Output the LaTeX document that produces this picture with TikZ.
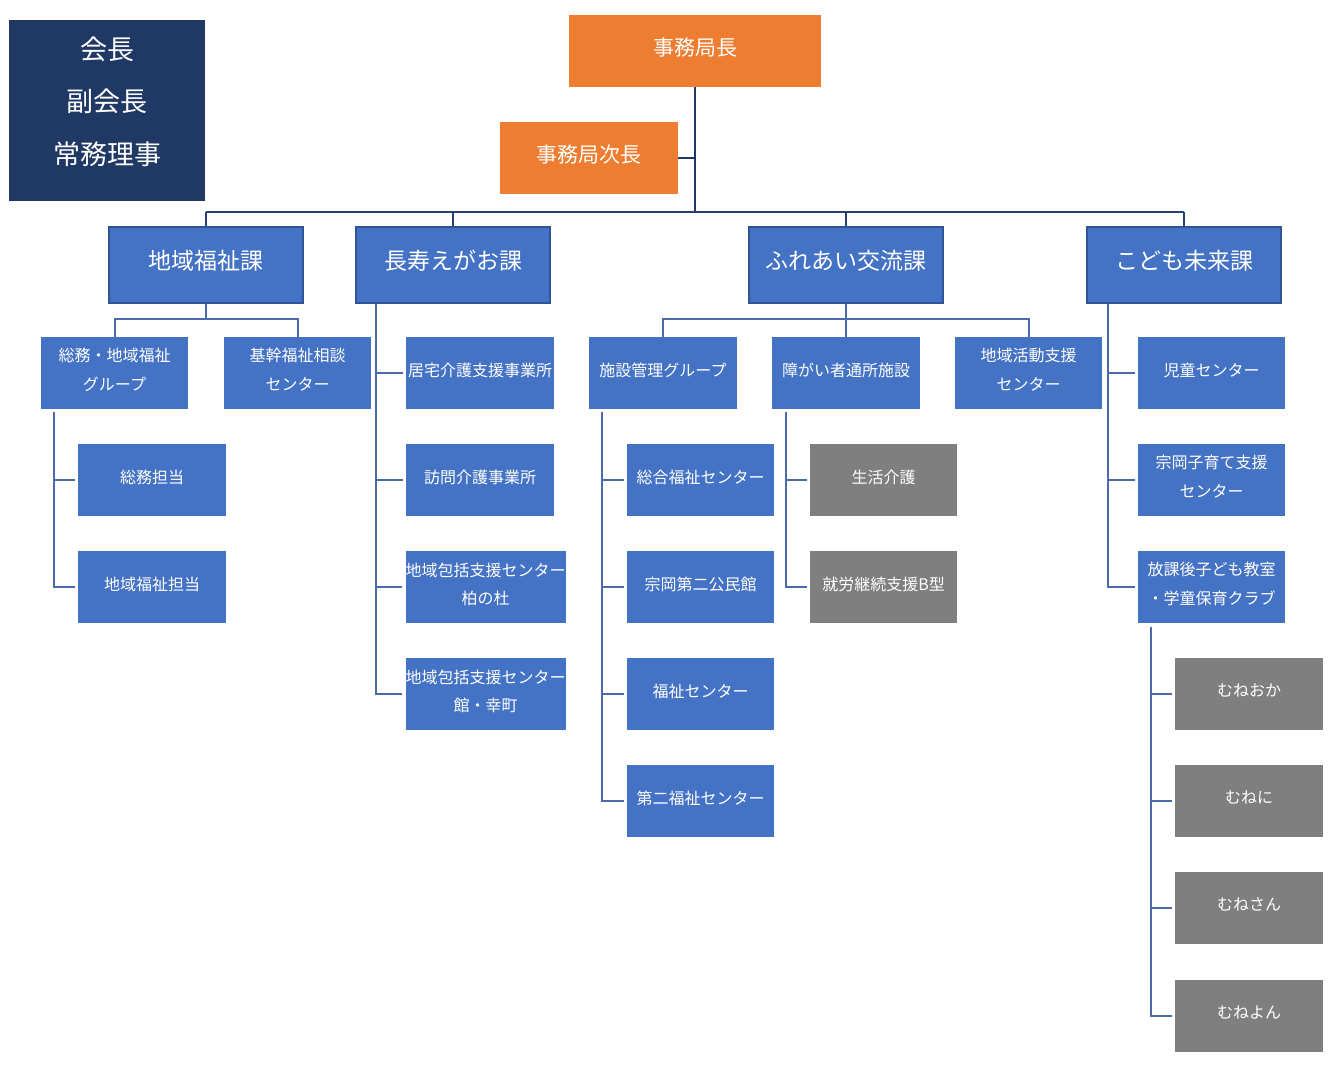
\documentclass[tikz,border=0pt]{standalone}
\usepackage{fontspec}
\setmainfont{Noto Sans CJK JP}
\definecolor{cNavy}{HTML}{203864}
\definecolor{cBlue}{HTML}{4472C4}
\definecolor{cBorder}{HTML}{2F5597}
\definecolor{cOrange}{HTML}{ED7D31}
\definecolor{cGray}{HTML}{7F7F7F}
\definecolor{cLine}{HTML}{4A6AAA}
\tikzset{
  box/.style={rectangle, inner sep=0pt, text=white, align=center,
    minimum width=147pt, minimum height=72pt, text depth=7pt,
    font=\fontsize{16}{28.5}\selectfont},
  bluebox/.style={box, fill=cBlue},
  graybox/.style={box, fill=cGray},
  widebox/.style={bluebox, minimum width=159pt},
  secbox/.style={box, fill=cBlue, draw=cBorder, line width=2.5pt, text depth=10pt,
    minimum width=194pt, minimum height=76pt, font=\fontsize{23}{28}\selectfont},
  orangebox/.style={box, fill=cOrange, minimum height=72pt, text depth=8pt,
    font=\fontsize{21}{26}\selectfont},
  navybox/.style={box, fill=cNavy},
  trunk/.style={draw=cNavy, line width=2.4pt},
  busline/.style={draw=cNavy!85!cBlue, line width=2pt},
  conn/.style={draw=cLine, line width=2pt},
}
\begin{document}
\begin{tikzpicture}[x=1pt,y=-1pt]
\useasboundingbox (0,0) rectangle (1332,1067);

% top boxes
\node[navybox, minimum width=196pt, minimum height=181pt] (kaicho) at (107,110.5) {};
\node[text=white, align=center, font=\fontsize{27}{52.5}\selectfont] (kaichotext) at (107,101.5) {会長\\副会長\\常務理事};
\node[orangebox, minimum width=252pt] (jkc) at (695,51) {事務局長};
\node[orangebox, minimum width=178pt] (jij) at (589,158) {事務局次長};

% sections
\node[secbox] (sec1) at (206,265) {地域福祉課};
\node[secbox] (sec2) at (453,265) {長寿えがお課};
\node[secbox] (sec3) at (846,265) {ふれあい交流課};
\node[secbox] (sec4) at (1184,265) {こども未来課};

% 地域福祉課
\node[bluebox] (g1) at (114.5,373) {総務・地域福祉\\グループ};
\node[bluebox] (g2) at (297.5,373) {基幹福祉相談\\センター};
\node[bluebox, minimum width=148pt] (c11) at (152,480) {総務担当};
\node[bluebox, minimum width=148pt] (c12) at (152,587) {地域福祉担当};

% 長寿えがお課
\node[bluebox, minimum width=148pt] (l1) at (480,373) {居宅介護支援事業所};
\node[bluebox, minimum width=148pt] (l2) at (480,480) {訪問介護事業所};
\node[widebox] (l3) at (485.5,587) {地域包括支援センター\\柏の杜};
\node[widebox] (l4) at (485.5,694) {地域包括支援センター\\館・幸町};

% ふれあい交流課
\node[bluebox, minimum width=148pt] (f1) at (663,373) {施設管理グループ};
\node[bluebox, minimum width=148pt] (f2) at (846,373) {障がい者通所施設};
\node[bluebox] (f3) at (1028.5,373) {地域活動支援\\センター};
\node[bluebox] (fc1) at (700.5,480) {総合福祉センター};
\node[bluebox] (fc2) at (700.5,587) {宗岡第二公民館};
\node[bluebox] (fc3) at (700.5,694) {福祉センター};
\node[bluebox] (fc4) at (700.5,801) {第二福祉センター};
\node[graybox] (fg1) at (883.5,480) {生活介護};
\node[graybox] (fg2) at (883.5,587) {就労継続支援B型};

% こども未来課
\node[bluebox] (k1) at (1211.5,373) {児童センター};
\node[bluebox] (k2) at (1211.5,480) {宗岡子育て支援\\センター};
\node[bluebox] (k3) at (1211.5,587) {放課後子ども教室\\・学童保育クラブ};
\node[graybox, minimum width=148pt] (m1) at (1249,694) {むねおか};
\node[graybox, minimum width=148pt] (m2) at (1249,801) {むねに};
\node[graybox, minimum width=148pt] (m3) at (1249,908) {むねさん};
\node[graybox, minimum width=148pt] (m4) at (1249,1016) {むねよん};

% coordinates
\coordinate (bL) at (206,212);
\coordinate (bR) at (1184,212);
\coordinate (h1) at (206,319);
\coordinate (h3) at (846,319);
\coordinate (v1) at (54,412);
\coordinate (v2) at (376,304);
\coordinate (v3) at (602,412);
\coordinate (v4) at (786,412);
\coordinate (v5) at (1108,304);
\coordinate (v6) at (1151,627);

% top connectors
\draw[trunk] (jkc.south) -- (jkc.south |- bL);
\draw[trunk] (jij.east) -- (jij.east -| jkc.south);
\draw[busline] (bL) -- (bR);
\draw[busline] (sec1.north) -- (sec1.north |- bL);
\draw[busline] (sec2.north) -- (sec2.north |- bL);
\draw[busline] (sec3.north) -- (sec3.north |- bL);
\draw[busline] (sec4.north) -- (sec4.north |- bL);

% 地域福祉課
\draw[conn] (sec1.south) -- (h1);
\draw[conn] (g1.north) |- (h1) -| (g2.north);
\draw[conn, shorten >=3pt] (v1) |- (c11.west);
\draw[conn, shorten >=3pt] (v1) |- (c12.west);

% 長寿えがお課
\draw[conn, shorten >=3pt] (v2) |- (l1.west);
\draw[conn, shorten >=3pt] (v2) |- (l2.west);
\draw[conn, shorten >=3pt] (v2) |- (l3.west);
\draw[conn, shorten >=3pt] (v2) |- (l4.west);

% ふれあい交流課
\draw[conn] (sec3.south) -- (f2.north);
\draw[conn] (f1.north) |- (h3) -| (f3.north);
\draw[conn, shorten >=3pt] (v3) |- (fc1.west);
\draw[conn, shorten >=3pt] (v3) |- (fc2.west);
\draw[conn, shorten >=3pt] (v3) |- (fc3.west);
\draw[conn, shorten >=3pt] (v3) |- (fc4.west);
\draw[conn, shorten >=3pt] (v4) |- (fg1.west);
\draw[conn, shorten >=3pt] (v4) |- (fg2.west);

% こども未来課
\draw[conn, shorten >=3pt] (v5) |- (k1.west);
\draw[conn, shorten >=3pt] (v5) |- (k2.west);
\draw[conn, shorten >=3pt] (v5) |- (k3.west);
\draw[conn, shorten >=3pt] (v6) |- (m1.west);
\draw[conn, shorten >=3pt] (v6) |- (m2.west);
\draw[conn, shorten >=3pt] (v6) |- (m3.west);
\draw[conn, shorten >=3pt] (v6) |- (m4.west);
\end{tikzpicture}
\end{document}
